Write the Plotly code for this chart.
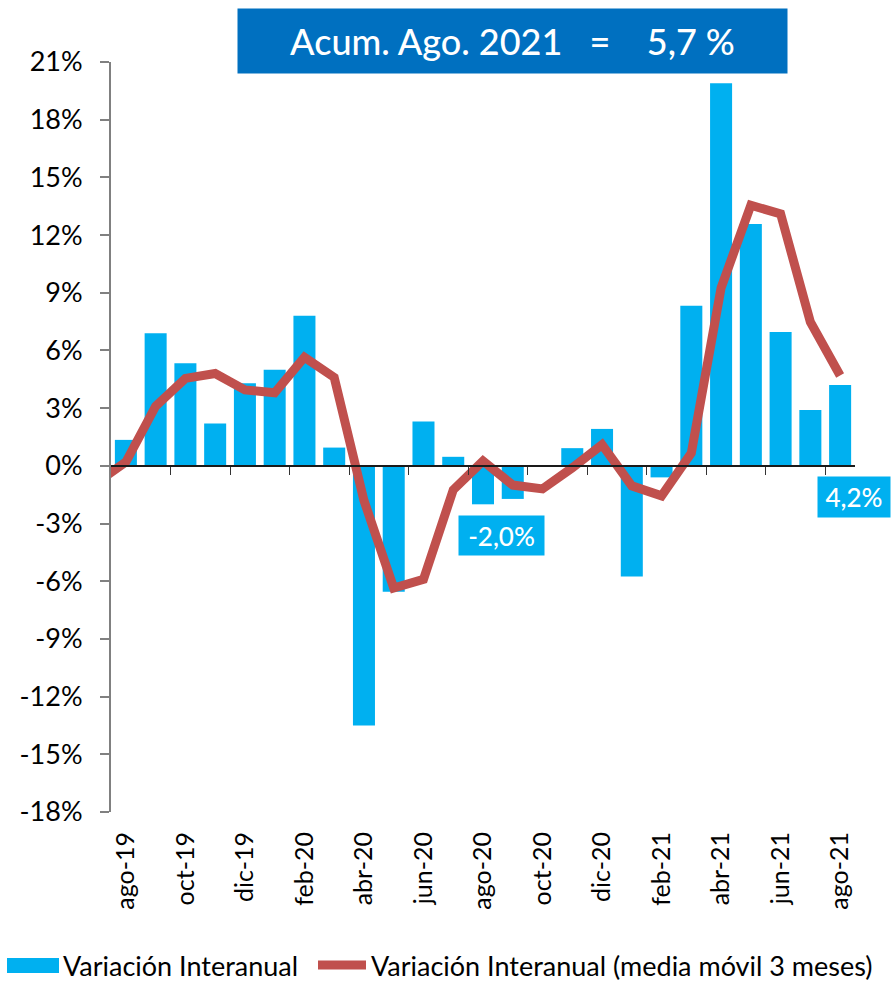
import plotly.graph_objects as go

# ---------------- data ----------------
months = ["ago-19", "sep-19", "oct-19", "nov-19", "dic-19", "ene-20", "feb-20", "mar-20",
          "abr-20", "may-20", "jun-20", "jul-20", "ago-20", "sep-20", "oct-20", "nov-20",
          "dic-20", "ene-21", "feb-21", "mar-21", "abr-21", "may-21", "jun-21", "jul-21",
          "ago-21"]
var_interanual = [1.35, 6.9, 5.33, 2.2, 4.3, 5.0, 7.8, 0.95,
                  -13.5, -6.55, 2.3, 0.47, -2.0, -1.72, 0.03, 0.92,
                  1.92, -5.76, -0.6, 8.33, 19.9, 12.57, 6.96, 2.9,
                  4.2]
# moving average (3 months); the series starts one month earlier (jul-19), clipped by the axis
ma_months = ["jul-19"] + months
media_movil = [-0.9, 0.2, 3.1, 4.55, 4.8, 3.95, 3.8, 5.65, 4.6,
               -1.8, -6.35, -5.9, -1.25, 0.25, -1.0, -1.2, -0.1,
               1.1, -1.04, -1.56, 0.67, 9.25, 13.55, 13.1, 7.48,
               4.7]
y_ticks = list(range(-18, 22, 3))
y_ticktext = [f"{v}%" for v in y_ticks]
x_label_idx = list(range(0, 25, 2))
x_label_text = [months[i] for i in x_label_idx]
title_text = "Acum. Ago. 2021\u00a0\u00a0\u00a0=\u00a0\u00a0\u00a0\u00a05,7 %"
legend_names = ["Variación Interanual", "Variación Interanual (media móvil 3 meses)"]

BLUE = "#00B0F0"
RED = "#C0504D"
DARKBLUE = "#0070C0"
FONT = "Lato"

W, H = 891, 981
ML, MR, MT, MB = 111, 36, 62, 169
PW, PH = W - ML - MR, H - MT - MB


def px(xp):
    return (xp - ML) / PW


def py(yp):
    return (H - MB - yp) / PH


x_bar = list(range(len(months)))
x_ma = [i - 1 for i in range(len(ma_months))]

fig = go.Figure()
fig.add_trace(go.Bar(x=x_bar, y=var_interanual, name=legend_names[0],
                     marker=dict(color=BLUE, line=dict(width=0)), width=0.74,
                     showlegend=False, xaxis="x", yaxis="y"))
fig.add_trace(go.Scatter(x=x_ma, y=media_movil, name=legend_names[1], mode="lines",
                         line=dict(color=RED, width=9), showlegend=False,
                         xaxis="x2", yaxis="y"))

fig.update_layout(
    width=W, height=H,
    margin=dict(l=ML, r=MR, t=MT, b=MB, pad=0),
    paper_bgcolor="white", plot_bgcolor="white",
    font=dict(family=FONT, color="black", size=24),
    bargap=0.26,
    xaxis=dict(range=[-0.5, 24.5], showgrid=False, zeroline=False, showline=False,
               tickvals=x_label_idx, ticktext=x_label_text, tickangle=-90,
               ticks="", ticklabelstandoff=14,
               tickfont=dict(family=FONT, size=25, color="black")),
    xaxis2=dict(range=[-0.5, 24.5], overlaying="x", anchor="free",
                position=18 / 39, showgrid=False, zeroline=False,
                showline=True, linecolor="#1a1a1a", linewidth=1.5,
                ticks="outside", ticklen=8, tickwidth=1.2, tickcolor="#333333",
                tickvals=[i + 0.5 for i in range(1, 24, 2)], showticklabels=False),
    yaxis=dict(range=[-18, 21], showgrid=False, zeroline=False, showline=True,
               linecolor="#808080", linewidth=2, ticks="outside", ticklen=9,
               tickwidth=1.5, tickcolor="#808080",
               tickvals=y_ticks, ticktext=y_ticktext, ticklabelstandoff=12,
               tickfont=dict(family=FONT, size=27, color="black")),
)

annotations = [
    dict(text=title_text, xref="paper", yref="paper",
         x=px((238 + 787) / 2), y=py(41), xanchor="center", yanchor="middle",
         showarrow=False, bgcolor=DARKBLUE, width=549, height=64, borderpad=0,
         font=dict(family=FONT, size=36, color="white", weight=500)),
    dict(text="-2,0%", xref="x", yref="y", x=12.63, y=-3.6,
         xanchor="center", yanchor="middle", showarrow=False,
         bgcolor=BLUE, width=85, height=39, borderpad=0,
         font=dict(family=FONT, size=26, color="white", weight=500)),
    dict(text="4,2%", xref="x", yref="y", x=24.46, y=-1.6,
         xanchor="center", yanchor="middle", showarrow=False,
         bgcolor=BLUE, width=72, height=40, borderpad=0,
         font=dict(family=FONT, size=26, color="white", weight=500)),
    dict(text=legend_names[0], xref="paper", yref="paper", x=px(61), y=py(965),
         xanchor="left", yanchor="middle", showarrow=False,
         font=dict(family=FONT, size=27, color="black")),
    dict(text=legend_names[1], xref="paper", yref="paper", x=px(369), y=py(965),
         xanchor="left", yanchor="middle", showarrow=False,
         font=dict(family=FONT, size=27, color="black")),
]
fig.update_layout(annotations=annotations)

shapes = [
    dict(type="rect", xref="paper", yref="paper", x0=px(7), x1=px(59), y0=py(973), y1=py(958),
         fillcolor=BLUE, line=dict(width=0)),
    dict(type="line", xref="paper", yref="paper", x0=px(318), x1=px(366), y0=py(965), y1=py(965),
         line=dict(color=RED, width=9)),
]
fig.update_layout(shapes=shapes)

fig.write_html("out.html", config={"displayModeBar": False},
               post_script="document.body.style.margin='0';")
